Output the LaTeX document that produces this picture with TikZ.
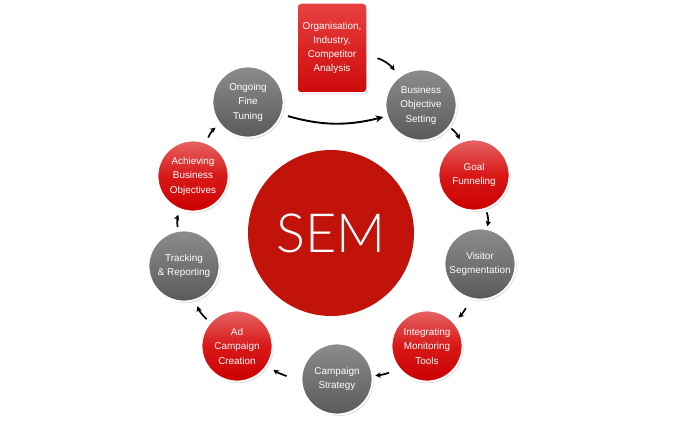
\documentclass[tikz,border=0pt]{standalone}
\usepackage{fontspec}
\setmainfont{Liberation Sans}
\newfontfamily\semfont{Lato Light}
\usetikzlibrary{arrows.meta,shadows}
\definecolor{semred}{RGB}{193,19,10}
\definecolor{rtop}{RGB}{230,100,100}
\definecolor{rmid}{RGB}{216,24,24}
\definecolor{rbot}{RGB}{204,0,0}
\definecolor{gtop}{RGB}{140,140,140}
\definecolor{gbot}{RGB}{90,90,90}
\definecolor{btop}{RGB}{232,64,64}
\definecolor{bbot}{RGB}{206,10,10}
\begin{document}
\begin{tikzpicture}[x=1pt,y=1pt,
  ring/.style={circle,minimum size=71pt,inner sep=0pt,draw=white,line width=1.8pt,
    align=center,text=white,font=\fontsize{9.9}{14.5}\selectfont,
    drop shadow={shadow xshift=1.2pt,shadow yshift=-1.5pt,opacity=0.3}},
  redring/.style={ring,top color=rtop,bottom color=rbot,middle color=rmid},
  grayring/.style={ring,top color=gtop,bottom color=gbot},
  arr/.style={-{Stealth[length=5.5pt,width=5.5pt]},line width=1.7pt,black},
  bigarr/.style={-{Stealth[length=8pt,width=7pt]},line width=1.9pt,black}]
\useasboundingbox (0,0) rectangle (680,421);
\fill[white] (0,0) rectangle (680,421);

\node[circle,fill=semred,minimum size=166pt,inner sep=0pt,text=white,
  font=\semfont\fontsize{54}{54}\selectfont] (sem) at (331,188) {SEM};

\node[rectangle,rounded corners=4pt,minimum width=70pt,minimum height=90pt,inner sep=0pt,
  top color=btop,bottom color=bbot,draw=white,line width=1.5pt,align=center,text=white,
  font=\fontsize{9.9}{14}\selectfont,
  drop shadow={shadow xshift=1.2pt,shadow yshift=-1.5pt,opacity=0.3}]
  (box) at (332,373) {Organisation,\\Industry,\\Competitor\\Analysis};

\node[grayring] (ong) at (248,319) {Ongoing\\Fine\\Tuning};
\node[grayring] (biz) at (421,316) {Business\\Objective\\Setting};
\node[redring]  (goal) at (474,246) {Goal\\Funneling};
\node[grayring] (vis) at (480,157) {Visitor\\Segmentation};
\node[redring]  (intg) at (427,75) {Integrating\\Monitoring\\Tools};
\node[grayring] (camp) at (337,42) {Campaign\\Strategy};
\node[redring]  (ad) at (237,75) {Ad\\Campaign\\Creation};
\node[grayring] (trk) at (184,155) {Tracking\\\& Reporting};
\node[redring]  (ach) at (193,245) {Achieving\\Business\\Objectives};

\draw[arr,shorten <=10pt,shorten >=7pt] (box) to[bend left=20] (biz);
\draw[arr,shorten <=2pt,shorten >=2pt] (biz) to[bend left=15] (goal);
\draw[arr,shorten <=3pt,shorten >=2pt] (goal) to[bend left=15] (vis);
\draw[arr,shorten <=10pt,shorten >=6pt] (vis) to[bend left=15] (intg);
\draw[arr,shorten <=10pt,shorten >=2pt] (intg) to[bend left=15] (camp);
\draw[arr,shorten <=14pt,shorten >=7pt] (camp) to[bend left=15] (ad);
\draw[arr,shorten <=4pt,shorten >=6pt] (ad) to[bend left=15] (trk);
\draw[arr,shorten <=3pt,shorten >=5pt] (trk) to[bend left=15] (ach);
\draw[arr,shorten <=5pt,shorten >=5pt] (ach) to[bend left=15] (ong);
\draw[bigarr,shorten <=6pt,shorten >=3pt] (ong.-20) to[bend right=15] (biz.-162);
\end{tikzpicture}
\end{document}
